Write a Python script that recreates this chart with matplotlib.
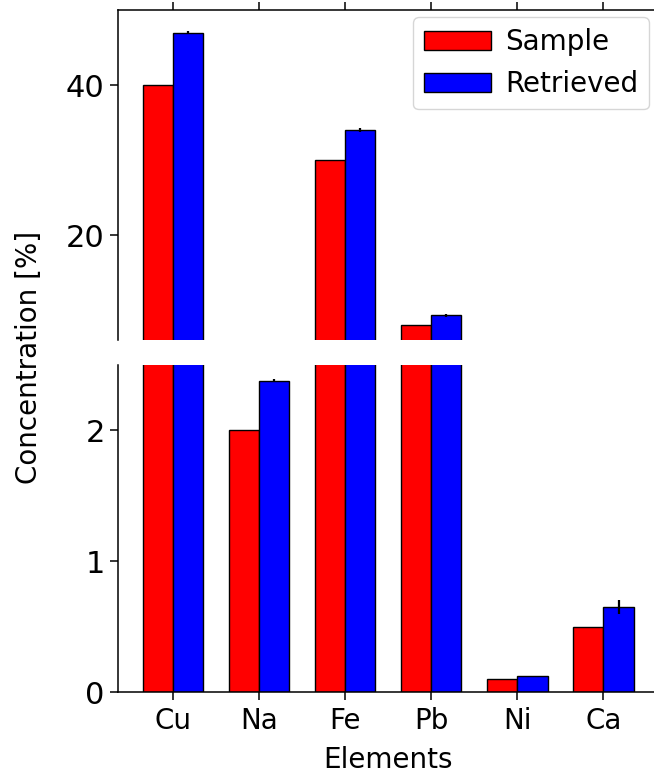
import numpy as np
import matplotlib
matplotlib.use("Agg")
import matplotlib.pyplot as plt

# Element concentrations: reference sample vs. retrieved values
elements = ["Cu", "Na", "Fe", "Pb", "Ni", "Ca"]
sample = [40.0, 2.0, 30.0, 8.0, 0.1, 0.5]
retrieved = [47.0, 2.38, 34.0, 9.3, 0.12, 0.65]
retrieved_err = [0.2, 0.01, 0.3, 0.2, 0.005, 0.05]

width = 0.35
x = np.arange(len(elements))

fig = plt.figure(figsize=(6.54, 7.74), dpi=100)
ax_top = fig.add_axes([0.1804, 0.5607, 0.826, 0.4263])
ax_bot = fig.add_axes([0.1804, 0.1059, 0.826, 0.4225])

for ax in (ax_top, ax_bot):
    ax.bar(x, sample, width, color="red", edgecolor="black", linewidth=1.0,
           label="Sample")
    ax.bar(x + width, retrieved, width, color="blue", edgecolor="black",
           linewidth=1.0, label="Retrieved")
    ax.errorbar(x + width, retrieved, yerr=retrieved_err, fmt="none",
                ecolor="black", elinewidth=1.6, capsize=0)
    ax.set_xlim(-0.462, 5.81)
    ax.set_xticks(x + width / 2)
    for s in ax.spines.values():
        s.set_linewidth(1.1)
    ax.tick_params(axis="y", labelsize=22, length=6, width=1.1)
    ax.tick_params(axis="x", labelsize=20, length=6, width=1.1, pad=5)

# Upper panel: large concentrations
ax_top.set_ylim(6, 50)
ax_top.set_yticks([20, 40])
ax_top.spines["bottom"].set_visible(False)
ax_top.xaxis.tick_top()
ax_top.tick_params(labeltop=False)

# Lower panel: trace concentrations
ax_bot.set_ylim(0, 2.5)
ax_bot.set_yticks([0, 1, 2])
ax_bot.spines["top"].set_visible(False)
ax_bot.xaxis.tick_bottom()
ax_bot.set_xticklabels(elements)
ax_bot.set_xlabel("Elements", fontsize=20, labelpad=8)

fig.text(0.045, 0.538, "Concentration [%]", rotation=90, fontsize=20,
         ha="center", va="center")

ax_top.legend(loc="upper right", fontsize=20, bbox_to_anchor=(0.983, 0.979),
              borderaxespad=0.0, handlelength=2.4, borderpad=0.4,
              labelspacing=0.5, handletextpad=0.5)

fig.savefig("out.png", dpi=100)
